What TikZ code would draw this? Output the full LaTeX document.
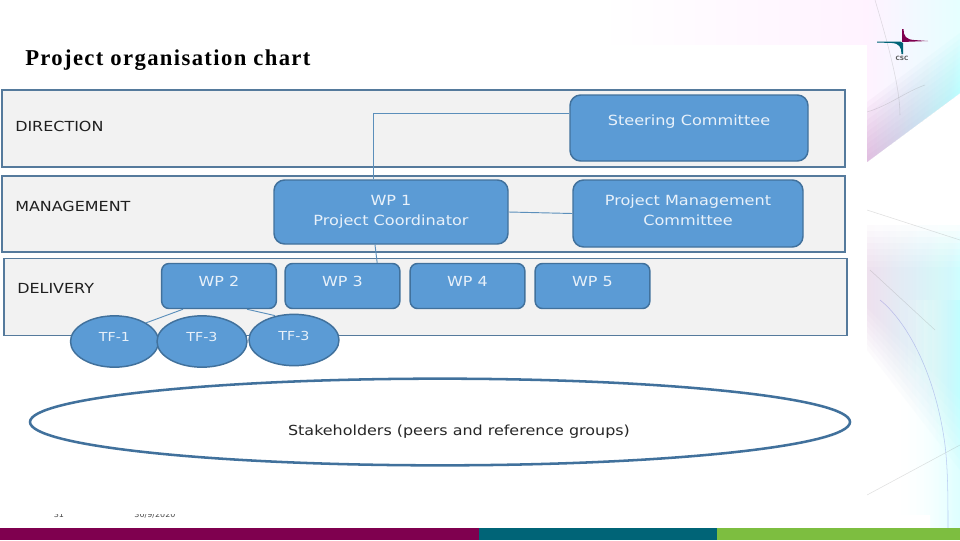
\documentclass[tikz,border=0pt]{standalone}
\usepackage{fontspec}
\usetikzlibrary{shapes.geometric,calc}
\setmainfont{DejaVu Sans}
\newfontfamily\boxfont[FakeStretch=1.15]{DejaVu Sans}
\newfontfamily\titlefont[LetterSpace=6]{Liberation Serif}
\definecolor{boxfill}{HTML}{5B9BD5}
\definecolor{boxline}{HTML}{41719C}
\definecolor{panelfill}{HTML}{F2F2F2}
\definecolor{panelline}{HTML}{557A9C}
\definecolor{linkline}{HTML}{5B8FBB}
\definecolor{barone}{HTML}{7F004F}
\definecolor{bartwo}{HTML}{006477}
\definecolor{barthree}{HTML}{7DBE40}
\definecolor{boxtext}{HTML}{E8F1FA}
\tikzset{
  x=0.75pt,y=-0.75pt,
  panel/.style={draw=panelline,fill=panelfill,line width=1.2pt,anchor=north west,inner sep=0pt},
  bigbox/.style={draw=boxline,fill=boxfill,line width=1.1pt,rounded corners=8pt,inner sep=0pt,text=boxtext,align=center,font=\boxfont\fontsize{10.5pt}{15pt}\selectfont},
  wpbox/.style={draw=boxline,fill=boxfill,line width=1.1pt,rounded corners=5.5pt,inner sep=0pt,text=boxtext,font=\boxfont\fontsize{10.4pt}{12pt}\selectfont,minimum width=86pt,minimum height=33.75pt,text height=6pt,text depth=6pt},
  tfnode/.style={ellipse,draw=boxline,fill=boxfill,line width=1.1pt,inner sep=0pt,text=boxtext,font=\boxfont\fontsize{9.3pt}{10pt}\selectfont,minimum width=66pt,minimum height=38.5pt,text height=6pt,text depth=6pt},
  bandlabel/.style={anchor=base west,inner sep=0pt,text=black!88,font=\boxfont\fontsize{10.4pt}{12pt}\selectfont},
  link/.style={draw=linkline,line width=0.7pt},
  hairline/.style={draw=#1,line width=0.4pt,opacity=.25}
}
\begin{document}
\begin{tikzpicture}
\useasboundingbox (0,0) rectangle (960,540);
\fill[white] (0,0) rectangle (960,540);
% background decoration
\shade[left color=white,right color=magenta!5] (600,0) rectangle (868,45);
\shade[left color=magenta!5,right color=cyan!10!white] (867,0) -- (960,0) -- (960,93) -- (867,162) -- cycle;
\foreach \k in {1,...,10}{
  \shade[left color=violet!38!white,right color=cyan!36!white,opacity=.08]
    (867,162) -- (960,93) -- (960,93-6*\k) -- (867,162-6*\k) -- cycle;
}
\foreach \k in {0,...,7}{
  \shade[left color=violet!24!white,right color=cyan!40!white,opacity=.07]
    (867,225+6*\k) -- (960,225+6*\k) -- (960,470-10*\k) -- (867,350-6*\k) -- cycle;
}
\foreach \k in {0,...,4}{
  \shade[left color=white,right color=cyan!30!white,opacity=.1]
    (900+8*\k,300) rectangle (960,528);
}
\shade[left color=white,middle color=magenta!5,right color=white] (790,515) rectangle (930,528);
\draw[hairline=gray] (875,0) .. controls (890,50) and (900,90) .. (900,115);
\draw[hairline=gray] (867,112) .. controls (890,105) and (905,92) .. (925,85);
\draw[hairline=blue!60!gray] (880,300) .. controls (905,320) and (935,370) .. (945,445);
\draw[hairline=blue!60!gray] (945,445) .. controls (948,470) and (948,500) .. (948,528);
\draw[hairline=gray] (867,210) -- (960,240);
\draw[hairline=gray] (867,495) -- (960,445);
\draw[hairline=gray] (870,270) -- (935,330);
\fill[white] (0,45) rectangle (867,515);
% logo
\fill[barone] (902,29) -- (903.5,29) .. controls (903.5,36) and (906,39.5) .. (914,40) -- (928,41) -- (902,42) -- cycle;
\fill[bartwo] (877,41.5) -- (900,41.5) -- (903,43) -- (903,54) -- (901.5,54) .. controls (901.5,47) and (899,43.5) .. (892,43) -- (877,42.5) -- cycle;
\node[inner sep=0pt,text=black!65,font=\fontsize{4.4pt}{5pt}\selectfont\bfseries] (logo) at (902,58.5) {CSC};
% footer
\begin{scope}
\clip (0,514) rectangle (300,528);
\node[inner sep=0pt,text=black!70,font=\fontsize{6pt}{7pt}\selectfont] (pageno) at (59,515) {31};
\node[inner sep=0pt,text=black!70,font=\fontsize{6pt}{7pt}\selectfont] (datetext) at (155,515) {30/9/2020};
\end{scope}
% bars
\fill[barone] (0,528) rectangle (479,540);
\fill[bartwo] (479,528) rectangle (717,540);
\fill[barthree] (717,528) rectangle (960,540);
% title
\node[anchor=base west,inner sep=0pt,font=\titlefont\fontsize{17pt}{20pt}\selectfont\bfseries] (title) at (25,65) {Project organisation chart};
% panels
\node[panel,minimum width=632.25pt,minimum height=57.75pt] (direction) at (1,89) {};
\node[panel,minimum width=632.25pt,minimum height=57pt] (management) at (1,175) {};
\node[panel,minimum width=632.25pt,minimum height=57.75pt] (delivery) at (3,257.5) {};
\node[bandlabel] (dirlabel) at (15,131) {DIRECTION};
\node[bandlabel] (manlabel) at (15,211) {MANAGEMENT};
\node[bandlabel] (dellabel) at (17,293) {DELIVERY};
% boxes
\node[bigbox,minimum width=178.5pt,minimum height=49.5pt] (steer) at (689,128) {Steering Committee\rule[-12.75pt]{0pt}{21.75pt}};
\node[bigbox,minimum width=175.5pt,minimum height=48pt] (wpone) at (391,212) {WP 1\\Project Coordinator};
\node[bigbox,minimum width=172.5pt,minimum height=50.25pt] (pmc) at (688,213.5) {Project Management\\Committee\rule[-4.5pt]{0pt}{0pt}};
\node[wpbox] (wptwo) at (219,286) {WP 2};
\node[wpbox] (wpthree) at (342.5,286) {WP 3};
\node[wpbox] (wpfour) at (467.5,286) {WP 4};
\node[wpbox] (wpfive) at (592.5,286) {WP 5};
% task forces
\node[tfnode] (tfa) at (114.5,341.5) {TF-1\hspace{3pt}};
\node[tfnode,minimum width=67.5pt] (tfb) at (202,341.5) {TF-3\hspace{6pt}};
\node[tfnode,minimum width=67.5pt] (tfc) at (294,340) {TF-3\hspace{7pt}};
% connectors
\draw[link] ([yshift=11.25pt]steer.west) -| ([xshift=-13.5pt]wpone.north);
\draw[link] ([xshift=-12pt]wpone.south) -- ([xshift=26pt]wpthree.north);
\draw[link] (wpone.east) -- (pmc.west);
\draw[link] ([xshift=-27pt]wptwo.south) -- (tfa.north east);
\draw[link] ([xshift=21pt]wptwo.south) -- ([xshift=-14.25pt,yshift=-1.5pt]tfc.north);
% stakeholders
\node[ellipse,draw=boxline,line width=1.9pt,fill=white,inner sep=0pt,minimum width=615pt,minimum height=65pt] (stake) at (440,422) {};
\node[anchor=base,inner sep=0pt,text=black!85,font=\boxfont\fontsize{10.4pt}{12pt}\selectfont] (staketext) at (459,435) {Stakeholders (peers and reference groups)};
\end{tikzpicture}
\end{document}
